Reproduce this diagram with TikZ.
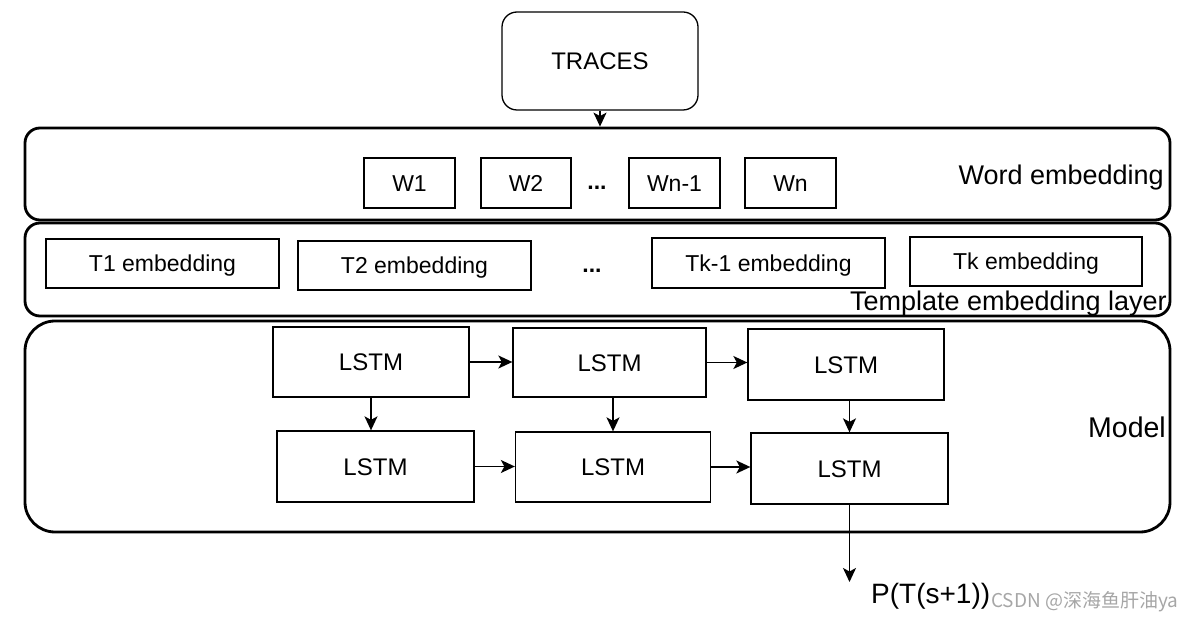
\documentclass[tikz,border=0pt]{standalone}
\usepackage{fontspec}
\setmainfont{Liberation Sans}
\newfontfamily\cjk{Noto Sans CJK SC}
\usetikzlibrary{arrows.meta}
\begin{document}
\begin{tikzpicture}[x=1pt,y=-1pt,
  box/.style={draw, line width=1.3pt, inner sep=0pt, text height=16.5pt, text depth=0pt,
    font=\fontsize{23pt}{27pt}\selectfont},
  lstm/.style={box, text height=17.2pt, font=\fontsize{24pt}{28pt}\selectfont},
  layer/.style={draw, line width=2.8pt, rounded corners=15pt, inner sep=0pt, minimum width=1145pt},
  lbl/.style={inner sep=0pt, font=\fontsize{27pt}{31pt}\selectfont},
  dots/.style={inner sep=0pt, font=\fontsize{23pt}{27pt}\selectfont\bfseries},
  arr/.style={line width=1.4pt, -{Stealth[length=14pt,width=13pt,inset=3.5pt]}}
]
\useasboundingbox (0,0) rectangle (1195,620);

% containers
\node[layer, minimum height=92pt] (wordlayer) at (597.5,174) {};
\node[layer, minimum height=93pt] (templayer) at (597.5,269.5) {};
\node[layer, minimum height=211pt, rounded corners=30pt] (modellayer) at (597.5,426.5) {};

% traces
\node[box, minimum width=196pt, minimum height=98pt, rounded corners=15pt, text height=17.2pt,
  font=\fontsize{24pt}{28pt}\selectfont] (traces) at (600,61) {TRACES};

% word embedding boxes
\node[box, minimum width=91pt, minimum height=50pt] (w1) at (409.5,183) {W1};
\node[box, minimum width=90pt, minimum height=50pt] (w2) at (526,183) {W2};
\node[dots, anchor=base] (wdots) at (597,190) {...};
\node[box, minimum width=91pt, minimum height=50pt] (wn1) at (674.5,183) {Wn-1};
\node[box, minimum width=91pt, minimum height=50pt] (wn) at (790.5,183) {Wn};
\node[lbl, anchor=base east] (wlabel) at (1164,185) {Word embedding};

% template embedding boxes
\node[box, minimum width=233pt, minimum height=49pt] (t1) at (162.5,263.5) {T1 embedding};
\node[box, minimum width=233pt, minimum height=49pt] (t2) at (414.5,265.5) {T2 embedding};
\node[dots, anchor=base] (tdots) at (592,273) {...};
\node[box, minimum width=233pt, minimum height=50pt] (tk1) at (768.5,263) {Tk-1 embedding};
\node[box, minimum width=232pt, minimum height=49pt] (tk) at (1026,261.5) {Tk embedding};
\node[lbl, anchor=base east] (tlabel) at (1167,311) {Template embedding layer};

% LSTM cells
\node[lstm, minimum width=196pt, minimum height=70pt] (a) at (371,362) {LSTM};
\node[lstm, minimum width=193pt, minimum height=69pt] (b) at (609.5,362.5) {LSTM};
\node[lstm, minimum width=196pt, minimum height=71pt] (c) at (846,364.5) {LSTM};
\node[lstm, minimum width=197pt, minimum height=71pt] (d) at (375.5,466.5) {LSTM};
\node[lstm, minimum width=195pt, minimum height=70pt] (e) at (613,467) {LSTM};
\node[lstm, minimum width=197pt, minimum height=71pt] (f) at (849.5,468.5) {LSTM};
\node[lbl, anchor=base east, font=\fontsize{28.5pt}{32pt}\selectfont] (mlabel) at (1166,438) {Model};

% output
\coordinate (out) at (849.5,582);
\node[inner sep=0pt, anchor=base west, font=\fontsize{28pt}{32pt}\selectfont] (plabel) at (871,603) {P(T(s+1))};
\node[inner sep=0pt, anchor=base west, text=black!35, font=\cjk\fontsize{19pt}{22pt}\selectfont] (wm) at (991,607) {CSDN @深海鱼肝油ya};

% connectors
\draw[arr] (traces.south) -- (traces.south |- wordlayer.north);
\draw[arr] (a.east) -- (a.east -| b.west);
\draw[arr] (b.east) -- (b.east -| c.west);
\draw[arr] (a.south) -- (a.south |- d.north);
\draw[arr] (b.south -| e.north) -- (e.north);
\draw[arr] (c.south -| f.north) -- (f.north);
\draw[arr] (d.east) -- (d.east -| e.west);
\draw[arr] (e.east) -- (e.east -| f.west);
\draw[arr] (f.south) -- (out);
\end{tikzpicture}
\end{document}
